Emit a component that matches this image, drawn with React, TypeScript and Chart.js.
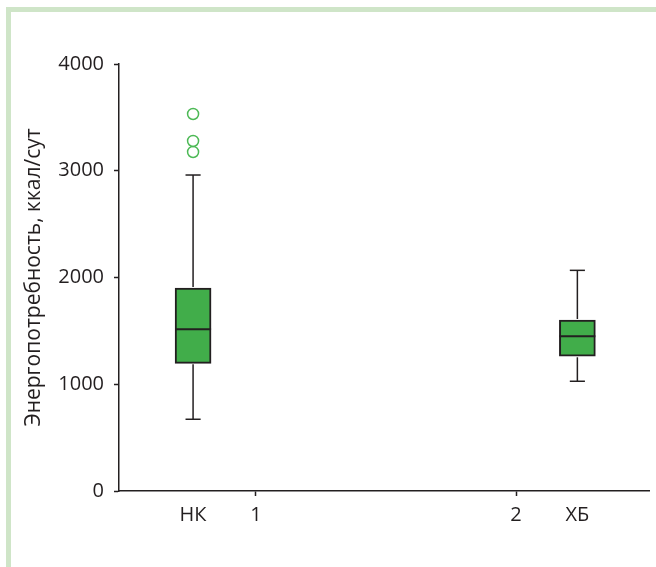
import React, { useEffect, useRef } from 'react';
import { Chart, registerables } from 'chart.js';

Chart.register(...registerables);

// ---- data ----
const categories = ['НК', 'ХБ'];
const categoryX = [0.758, 2.236];
const numberTicks = [1, 2];
const mins = [672, 1028];
const q1s = [1196, 1262];
const medians = [1515, 1449];
const q3s = [1902, 1602];
const maxs = [2960, 2067];
const outliersNK = [3532, 3279, 3176];
const yTicks = [0, 1000, 2000, 3000, 4000];
const yTitle = 'Энергопотребность, ккал/сут';

const INK = '#231f20';
const BOX_FILL = '#41ad4a';
const OUTLIER = '#4cb955';
const FRAME = '#cfe5c8';
const FONT = '"Open Sans", "Noto Sans", sans-serif';

const boxPlugin = {
  id: 'boxWhiskers',
  afterDatasetsDraw(chart: any) {
    const meta = chart.getDatasetMeta(0);
    const xs = chart.scales.x;
    const ys = chart.scales.y;
    const ctx = chart.ctx;
    const line = (x1: number, y1: number, x2: number, y2: number) => {
      ctx.beginPath();
      ctx.moveTo(x1, y1);
      ctx.lineTo(x2, y2);
      ctx.stroke();
    };
    ctx.save();
    ctx.strokeStyle = INK;
    meta.data.forEach((bar: any, i: number) => {
      const cx = xs.getPixelForValue(categoryX[i]);
      const half = bar.width / 2;
      const capHalf = half * 0.42;
      const yMax = ys.getPixelForValue(maxs[i]);
      const yMin = ys.getPixelForValue(mins[i]);
      const yQ1 = ys.getPixelForValue(q1s[i]);
      const yQ3 = ys.getPixelForValue(q3s[i]);
      const yMed = ys.getPixelForValue(medians[i]);
      ctx.lineWidth = 1.5;
      line(cx, yQ3 - 1, cx, yMax);
      line(cx - capHalf, yMax, cx + capHalf, yMax);
      line(cx, yQ1 + 1, cx, yMin);
      line(cx - capHalf, yMin, cx + capHalf, yMin);
      ctx.lineWidth = 2;
      line(cx - half, yMed, cx + half, yMed);
    });
    ctx.restore();
  },
};

export default function App() {
  const ref = useRef<HTMLCanvasElement | null>(null);

  useEffect(() => {
    if (!ref.current) return;
    const xTickValues = [categoryX[0], numberTicks[0], numberTicks[1], categoryX[1]];
    const xLabel = (v: number) => {
      const ci = categoryX.indexOf(v);
      if (ci >= 0) return categories[ci];
      return String(v);
    };
    const chart = new Chart(ref.current, {
      type: 'bar',
      data: {
        datasets: [
          {
            type: 'bar',
            data: categoryX.map((x, i) => ({ x, y: [q1s[i], q3s[i]] })) as any,
            backgroundColor: BOX_FILL,
            borderColor: INK,
            borderWidth: 2,
            borderSkipped: false,
            barThickness: 36,
          } as any,
          {
            type: 'scatter',
            data: outliersNK.map((y) => ({ x: categoryX[0], y })),
            pointRadius: 5.5,
            pointBorderColor: OUTLIER,
            pointBackgroundColor: 'rgba(0,0,0,0)',
            pointBorderWidth: 1.5,
          } as any,
        ],
      },
      options: {
        responsive: false,
        animation: false,
        layout: { padding: { top: 64, right: 7, bottom: 0, left: 0 } },
        plugins: { legend: { display: false }, tooltip: { enabled: false } },
        scales: {
          x: {
            type: 'linear',
            offset: false,
            min: 0.4731,
            max: 2.5115,
            afterBuildTicks: (scale: any) => {
              scale.ticks = xTickValues.map((value) => ({ value }));
            },
            afterFit: (scale: any) => {
              scale.height = 76;
            },
            ticks: {
              autoSkip: false,
              maxRotation: 0,
              padding: 7,
              color: INK,
              font: { family: FONT, size: 20 },
              callback: (v: any) => xLabel(Number(v)),
            },
            grid: {
              offset: false,
              drawOnChartArea: false,
              drawTicks: true,
              tickLength: 5,
              tickWidth: 1.5,
              tickColor: (ctx: any) =>
                ctx.tick && numberTicks.includes(ctx.tick.value) ? INK : 'rgba(0,0,0,0)',
            },
            border: { display: true, color: INK, width: 1.5 },
          },
          y: {
            type: 'linear',
            min: yTicks[0],
            max: yTicks[yTicks.length - 1],
            afterBuildTicks: (scale: any) => {
              scale.ticks = yTicks.map((value) => ({ value }));
            },
            afterFit: (scale: any) => {
              scale.width = 119;
            },
            ticks: {
              padding: 10,
              color: INK,
              font: { family: FONT, size: 20 },
              callback: (v: any) => String(v),
            },
            grid: {
              drawOnChartArea: false,
              drawTicks: true,
              tickLength: 5,
              tickWidth: 1.5,
              tickColor: INK,
            },
            border: { display: true, color: INK, width: 1.5 },
            title: {
              display: true,
              text: yTitle,
              color: INK,
              font: { family: FONT, size: 21 },
              padding: { top: 21, bottom: 0 },
            },
          },
        },
      },
      plugins: [boxPlugin],
    } as any);
    return () => chart.destroy();
  }, []);

  return (
    <div style={{ position: 'absolute', left: 0, top: 0, width: 656, height: 567, background: '#fff', overflow: 'hidden' }}>
      <div
        style={{
          position: 'absolute',
          left: 6,
          top: 7,
          right: 0,
          bottom: 0,
          borderLeft: `5px solid ${FRAME}`,
          borderTop: `5px solid ${FRAME}`,
        }}
      />
      <canvas ref={ref} width={656} height={567} style={{ position: 'absolute', left: 0, top: 0 }} />
    </div>
  );
}
